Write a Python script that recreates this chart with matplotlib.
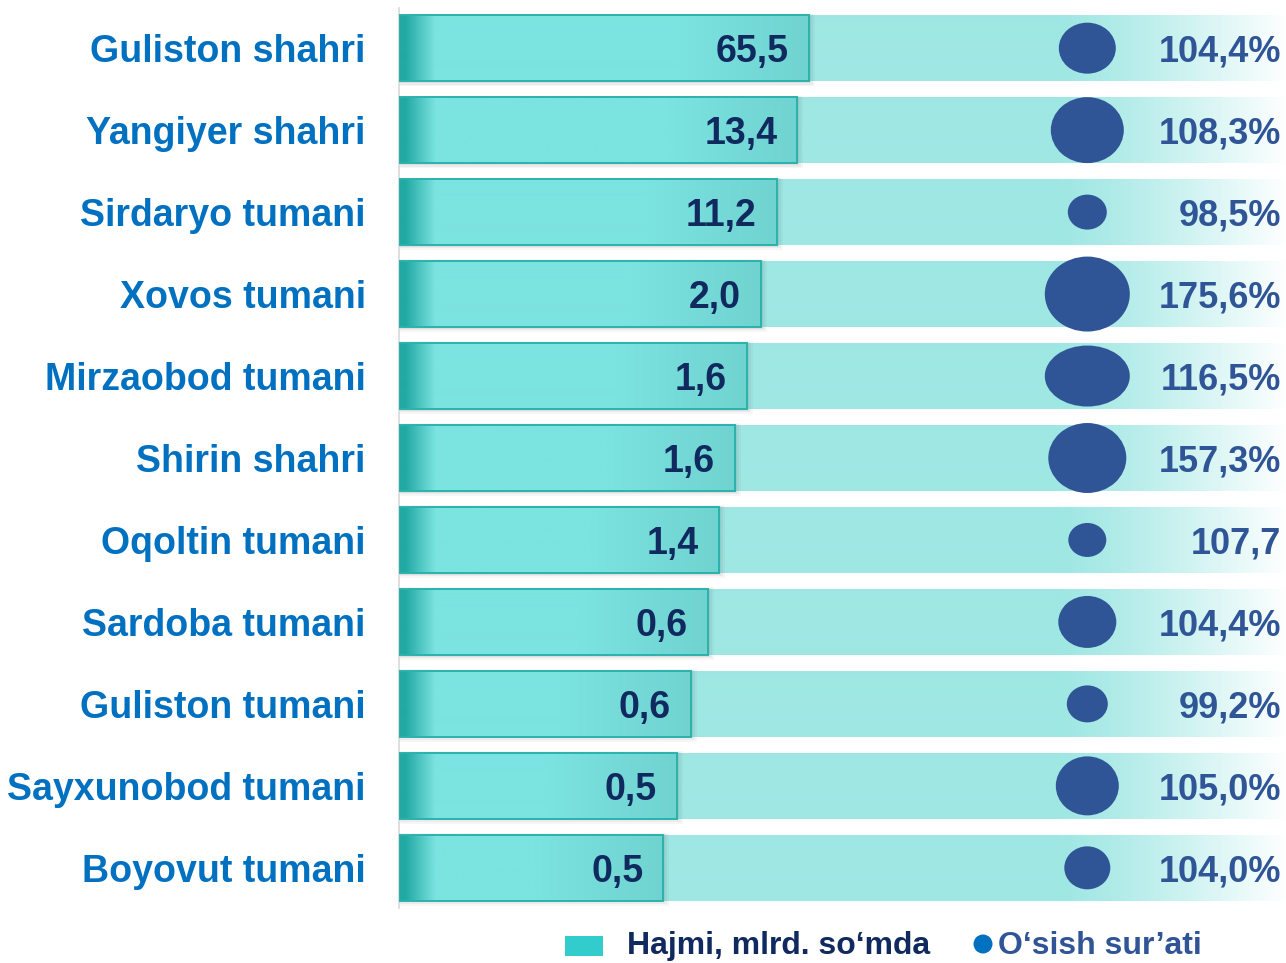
import numpy as np
import matplotlib
matplotlib.use('Agg')
import matplotlib.pyplot as plt
from matplotlib.patches import Rectangle, Ellipse
from matplotlib import font_manager

# data
districts = ['Guliston shahri', 'Yangiyer shahri', 'Sirdaryo tumani', 'Xovos tumani',
             'Mirzaobod tumani', 'Shirin shahri', 'Oqoltin tumani', 'Sardoba tumani',
             'Guliston tumani', 'Sayxunobod tumani', 'Boyovut tumani']
volume = [65.5, 13.4, 11.2, 2.0, 1.6, 1.6, 1.4, 0.6, 0.6, 0.5, 0.5]
growth_labels = ['104,4%', '108,3%', '98,5%', '175,6%', '116,5%', '157,3%',
                 '107,7', '104,4%', '99,2%', '105,0%', '104,0%']
# drawn bar length (share of the plot width, the bars are not to scale)
bar_len = [46.2, 44.9, 42.6, 40.8, 39.2, 37.9, 36.1, 34.8, 32.9, 31.3, 29.8]
# bubble diameters as drawn (width, height)
bubble_w = [57, 73, 39, 85, 85, 78, 38, 58, 41, 63, 46]
bubble_h = [51, 66, 35, 75, 61, 70, 34, 52, 37, 59, 43]

names = {f.name for f in font_manager.fontManager.ttflist}
plt.rcParams['font.family'] = ['Liberation Sans', 'DejaVu Sans']
narrow = 'Liberation Sans Narrow' in names

W, H = 1286, 963
fig = plt.figure(figsize=(W / 100, H / 100), dpi=100)
ax = fig.add_axes([399 / W, 55 / H, 887 / W, 900 / H])
px = 100 / 887.0   # axis units per pixel in x
py = 1 / 82.0      # axis units per pixel in y

bar_h = 0.8


def hex2rgb(h):
    h = h.lstrip('#')
    return np.array([int(h[i:i + 2], 16) for i in (0, 2, 4)]) / 255.0


bg_col = hex2rgb('#9ee7e3')
white = np.ones(3)
dark = hex2rgb('#22a9a3')
main = hex2rgb('#7be3e0')
endc = hex2rgb('#70d3d0')

# background gradient strip (same for all rows)
xs = np.arange(887)
t = np.clip((xs - 660) / (887 - 660), 0, 1) ** 1.2
bg = (bg_col[None, :] * (1 - t[:, None]) + white[None, :] * t[:, None])[None, :, :]

for i in range(len(districts)):
    ax.imshow(bg, extent=(0, 100, i + bar_h / 2, i - bar_h / 2), aspect='auto',
              interpolation='bilinear', zorder=1)

    L = bar_len[i]
    n = int(round(L / px))
    # soft shadow
    for k, a in zip([6, 4, 2], [0.05, 0.07, 0.09]):
        ax.add_patch(Rectangle((0, i - bar_h / 2 - k * py * 0.3), L + k * px,
                               bar_h + k * py * 1.2, facecolor='#606060', alpha=a,
                               edgecolor='none', zorder=2))
    c = np.arange(n)
    w1 = np.clip((c - 6) / 30.0, 0, 1)[:, None]
    col = dark * (1 - w1) + main * w1
    w2 = np.clip((c - (n - 130)) / 130.0, 0, 1)[:, None]
    col = col * (1 - w2) + endc * w2
    ax.imshow(col[None, :, :], extent=(0, L, i + bar_h / 2, i - bar_h / 2),
              aspect='auto', interpolation='bilinear', zorder=3)
    ax.add_patch(Rectangle((0, i - bar_h / 2), L, bar_h, facecolor='none',
                           edgecolor='#2bb2ac', lw=1.4, zorder=4))

    lab = f'{volume[i]:.1f}'.replace('.', ',')
    ax.text(L - 20 * px, i + 0.05, lab, ha='right', va='center', fontsize=27,
            fontweight='bold', color='#10295e', zorder=5)

    ax.add_patch(Ellipse((77.6, i), bubble_w[i] * px, bubble_h[i] * py,
                         facecolor='#2f5597', edgecolor='none', zorder=5))
    ax.text(99.5, i + 0.05, growth_labels[i], ha='right', va='center', fontsize=26,
            fontweight='bold', color='#2f5597', zorder=5)

ax.set_xlim(0, 100)
ax.set_ylim(len(districts) - 1 + 0.49, -0.49)
ax.set_yticks(range(len(districts)))
ax.set_yticklabels(districts, fontsize=27, fontweight='bold', color='#0070c0')
ax.set_xticks([])
ax.tick_params(axis='y', length=0, pad=24)
for s in ['top', 'right', 'bottom']:
    ax.spines[s].set_visible(False)
ax.spines['left'].set_color('#d9d9d9')
ax.spines['left'].set_linewidth(1.2)

# legend drawn by hand
lfam = ['Liberation Sans Narrow', 'Liberation Sans'] if narrow else ['Liberation Sans']
lsize = 26.5 if narrow else 23
fig.patches.append(Rectangle((565 / W, 1 - 956 / H), 38 / W, 20 / H, facecolor='#33cccc',
                             edgecolor='none', transform=fig.transFigure))
fig.text(627 / W, 1 - 946 / H, 'Hajmi, mlrd. so\u2018mda', ha='left', va='center',
         fontsize=lsize, fontweight='bold', color='#10295e', family=lfam)
fig.patches.append(Ellipse((983 / W, 1 - 944 / H), 19 / W, 19 / H, facecolor='#0070c0',
                           edgecolor='none', transform=fig.transFigure))
fig.text(998 / W, 1 - 946 / H, 'O\u2018sish sur\u2019ati', ha='left', va='center',
         fontsize=lsize, fontweight='bold', color='#2f5597', family=lfam)

fig.savefig('out.png', dpi=100)
